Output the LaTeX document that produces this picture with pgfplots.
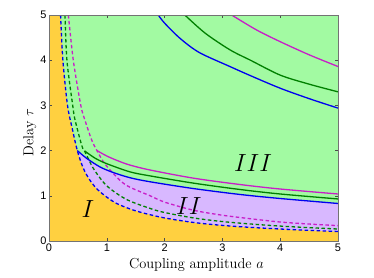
\documentclass[border=0pt]{standalone}
\usepackage{fontspec}
\usepackage{pgfplots}
\pgfplotsset{compat=1.18}
\newfontfamily\helv{Liberation Sans}
\definecolor{cI}{HTML}{FFD040}
\definecolor{cII}{HTML}{D8B8FF}
\definecolor{cIII}{HTML}{A2FAA2}
\definecolor{myblue}{HTML}{0000F0}
\definecolor{mygreen}{HTML}{008000}
\definecolor{mymag}{HTML}{C81EC8}
\begin{document}
\begin{tikzpicture}[x=1bp,y=1bp]
\begin{axis}[
  scale only axis, width=289bp, height=226bp,
  xmin=0, xmax=5, ymin=0, ymax=5,
  xtick={0,1,2,3,4,5}, ytick={0,1,2,3,4,5},
  tick align=inside, major tick length=3bp,
  tick style={black!70, line width=0.5bp},
  axis line style={black!55, line width=0.8bp},
  axis background/.style={fill=cIII},
  axis on top,
  /pgf/number format/assume math mode=true,
  tick label style={font=\helv\fontsize{11}{13}\selectfont},
  xticklabel style={yshift=1bp},
  yticklabel style={xshift=1bp},
  xlabel={Coupling amplitude $a$},
  ylabel={Delay $\tau$},
  every axis x label/.style={at={(rel axis cs:0.51,-0.106)}, anchor=center, font=\fontsize{14.5}{17}\selectfont},
  every axis y label/.style={at={(rel axis cs:-0.066,0.48)}, anchor=center, rotate=90, font=\fontsize{14.5}{17}\selectfont},
]
% region I
\addplot[fill=cI, draw=none] coordinates {(0,0) (0,5) (0.20,5.0) (0.24,4.0) (0.32,3.0) (0.40,2.5) (0.49,2.0) (0.59,1.62) (0.70,1.36) (0.83,1.15) (1.0,0.97) (1.17,0.83) (1.4,0.71) (1.63,0.62) (2.0,0.51) (2.5,0.41) (3.0,0.345) (3.5,0.30) (4.0,0.265) (4.5,0.235) (5.0,0.21) (5,0)};
% region II
\addplot[fill=cII, draw=none] coordinates {(0.49,2.0) (0.59,1.62) (0.70,1.36) (0.83,1.15) (1.0,0.97) (1.17,0.83) (1.4,0.71) (1.63,0.62) (2.0,0.51) (2.5,0.41) (3.0,0.345) (3.5,0.30) (4.0,0.265) (4.5,0.235) (5.0,0.21) (5,0.83) (4,0.94) (3.3,1.03) (2.5,1.16) (1.75,1.31) (1.4,1.40) (1.1,1.52) (0.88,1.64) (0.65,1.83) (0.49,2.0)};
% dashed curves
\addplot[mymag, line width=1.3bp, dash pattern=on 3.5bp off 2.5bp, smooth] coordinates {(0.335,5.0) (0.42,4.0) (0.55,3.0) (0.62,2.68) (0.74,2.23) (0.83,2.0) (0.97,1.7) (1.23,1.34) (1.4,1.19) (1.75,1.0) (2.0,0.86) (2.5,0.68) (3.0,0.57) (3.5,0.49) (4.0,0.42) (4.5,0.375) (5.0,0.34)};
\addplot[mygreen, line width=1.3bp, dash pattern=on 3.5bp off 2.5bp, smooth] coordinates {(0.277,5.0) (0.31,4.0) (0.41,3.0) (0.45,2.68) (0.57,2.1) (0.62,1.98) (0.77,1.6) (1.0,1.22) (1.34,0.92) (1.75,0.72) (2.0,0.63) (2.5,0.51) (3.0,0.43) (3.5,0.375) (4.0,0.33) (4.5,0.295) (5.0,0.265)};
\addplot[myblue, line width=1.3bp, dash pattern=on 3.5bp off 2.5bp, smooth] coordinates {(0.20,5.0) (0.24,4.0) (0.32,3.0) (0.40,2.5) (0.49,2.0) (0.59,1.62) (0.70,1.36) (0.83,1.15) (1.0,0.97) (1.17,0.83) (1.4,0.71) (1.63,0.62) (2.0,0.51) (2.5,0.41) (3.0,0.345) (3.5,0.30) (4.0,0.265) (4.5,0.235) (5.0,0.21)};
% lower solid curves
\addplot[mymag, line width=1.3bp, smooth] coordinates {(0.83,2.0) (1.0,1.88) (1.2,1.77) (1.4,1.68) (1.75,1.57) (2.5,1.39) (3.3,1.25) (4,1.15) (5,1.04)};
\addplot[mygreen, line width=1.3bp, smooth] coordinates {(0.62,1.99) (0.8,1.83) (1.0,1.71) (1.4,1.53) (1.75,1.44) (2.5,1.28) (3.3,1.14) (4,1.04) (5,0.93)};
\addplot[myblue, line width=1.3bp, smooth] coordinates {(0.49,2.0) (0.65,1.83) (0.88,1.64) (1.1,1.52) (1.4,1.40) (1.75,1.31) (2.5,1.16) (3.3,1.03) (4,0.94) (5,0.83)};
% upper solid curves
\addplot[mymag, line width=1.3bp, smooth] coordinates {(3.16,5) (3.59,4.67) (4.0,4.41) (4.5,4.12) (5,3.86)};
\addplot[mygreen, line width=1.3bp, smooth] coordinates {(2.35,5) (2.7,4.6) (3.13,4.23) (3.5,3.99) (4.0,3.67) (4.5,3.47) (5,3.30)};
\addplot[myblue, line width=1.3bp, smooth] coordinates {(1.89,5) (2.0,4.82) (2.27,4.48) (2.6,4.17) (3.13,3.86) (3.5,3.65) (4.0,3.38) (4.5,3.15) (5,2.94)};
% region labels
\node[font=\fontsize{23}{26}\selectfont] at (axis cs:0.675,0.70) {$I$};
\node[font=\fontsize{23}{26}\selectfont] at (axis cs:2.42,0.77) {$II$};
\node[font=\fontsize{23}{26}\selectfont] at (axis cs:3.53,1.73) {$III$};
\coordinate (bbll) at (rel axis cs:-0.1696,-0.1637);
\coordinate (bbur) at (rel axis cs:1.1246,1.0664);
\end{axis}
\path (bbll) rectangle (bbur);
\end{tikzpicture}
\end{document}
